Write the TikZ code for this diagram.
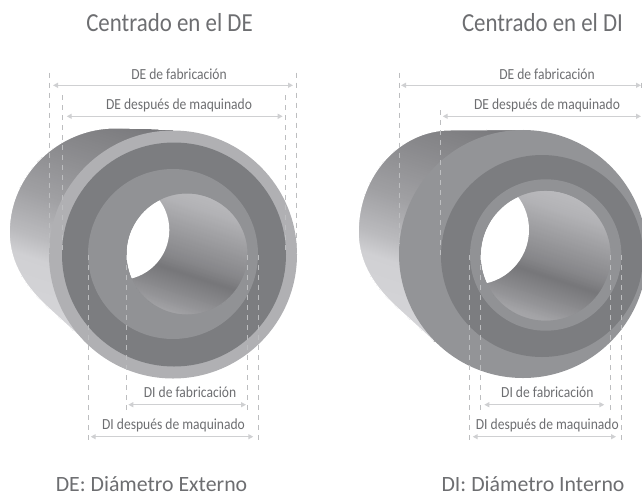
\documentclass[tikz,border=0pt]{standalone}
\usepackage{fontspec}
\setmainfont{Carlito}
\newfontfamily\narrowfont[FakeStretch=0.88]{Carlito}
\usetikzlibrary{arrows.meta}
\definecolor{rimL}{HTML}{B0B0B3}
\definecolor{rimR}{HTML}{939497}
\definecolor{darkring}{HTML}{7C7D80}
\definecolor{midring}{HTML}{919295}
\definecolor{txt}{HTML}{6D6E71}
\definecolor{dim}{HTML}{CFD0D2}
\definecolor{guide}{HTML}{BDBEC0}
% #1 centre, #2 base grey, #3 list of dist/grey/dist/grey: tilted linear gradient painted as overlapping half-planes
\newcommand\tiltgrad[3]{%
  \begin{scope}[shift={#1},rotate=-18]
    \pgfmathsetmacro\bval{#2+0.012}
    \definecolor{stripc}{rgb}{#2,#2,\bval}
    \fill[stripc] (-500,-500) rectangle (500,500);
    \foreach \dA/\gA/\dB/\gB in #3 {
      \pgfmathtruncatemacro\nsteps{max(1,abs(\dA-\dB))}
      \foreach \istep in {1,...,\nsteps}{
        \pgfmathsetmacro\dval{\dA-(\dA-\dB)*\istep/\nsteps}
        \pgfmathsetmacro\gval{\gA+(\gB-\gA)*\istep/\nsteps}
        \pgfmathsetmacro\bval{\gval+0.012}
        \definecolor{stripc}{rgb}{\gval,\gval,\bval}
        \fill[stripc] (-500,-\dval) rectangle (500,500);
      }
    }
  \end{scope}}
\tikzset{
  x=1pt,y=-1pt,
  guideline/.style={draw=guide,line width=0.9pt,dash pattern=on 5pt off 5pt},
  dimline/.style={draw=dim,line width=1.4pt,{Triangle[length=5pt,width=5pt]}-{Triangle[length=5pt,width=5pt]}},
  small/.style={text=txt,inner sep=0pt,font=\narrowfont\fontsize{15.4}{16}\selectfont},
  title/.style={text=txt,inner sep=0pt,font=\narrowfont\fontsize{26}{28}\selectfont},
  foot/.style={text=txt,inner sep=0pt,anchor=base,font=\fontsize{21.8}{24}\selectfont},
  edgesmooth/.style={draw=#1,line width=1pt}
}
\begin{document}
\begin{tikzpicture}
\useasboundingbox (0,0) rectangle (642,493);
\clip (0,0) rectangle (642,493);
% left tube
\begin{scope}
\clip (115,128.5) .. controls (58,128.5) and (9.8,175) .. (9.8,232) .. controls (9.8,265) and (27.5,288.5) .. (49.5,308.5) -- (85,341) -- (173,254) -- (173,130.5) -- cycle;
\tiltgrad{(110,230)}{.455}{{115/.455/101/.49,101/.49/60/.55,60/.55/13/.627,13/.627/-29/.733,-29/.733/-50/.816,-50/.816/-110/.835}}
\end{scope}
\draw[edgesmooth=white] (173,128.5) -- (115,128) .. controls (58,128) and (9.3,175) .. (9.3,232) .. controls (9.3,265) and (27.5,289) .. (49.5,309) -- (85,341.5);
\fill[rimL] (173,254.5) circle[radius=124pt];
\fill[darkring] (174,254.5) circle[radius=112pt];
\fill[midring] (173,254) circle[radius=85pt];
\begin{scope}
\clip (187,254) circle[radius=60.5pt];
\tiltgrad{(187,254)}{.725}{{62/.725/47/.70,47/.70/25/.627,25/.627/-6/.53,-6/.53/-19.5/.465,-19.5/.465/-47/.575,-47/.575/-60/.64,-60/.64/-70/.66}}
\fill[white] (119.3,230) circle[radius=50pt];
\end{scope}
\draw[edgesmooth=midring] (187,254) circle[radius=61pt];
% right tube
\begin{scope}
\clip (450,130.5) .. controls (400,130.5) and (358.8,175) .. (358.8,232) .. controls (358.8,265) and (376.5,288.5) .. (398.5,308.5) -- (434,341) -- (523,254) -- (523,129.5) -- cycle;
\tiltgrad{(459,230)}{.455}{{115/.455/101/.49,101/.49/60/.55,60/.55/13/.627,13/.627/-29/.733,-29/.733/-50/.816,-50/.816/-110/.835}}
\end{scope}
\draw[edgesmooth=white] (523,129.5) -- (450,130) .. controls (400,130) and (358.3,175) .. (358.3,232) .. controls (358.3,265) and (376.5,289) .. (398.5,309) -- (434,341.5);
\fill[rimR] (523,254) circle[radius=124pt];
\fill[darkring] (542,256) circle[radius=101pt];
\fill[midring] (545.7,255) circle[radius=75.7pt];
\begin{scope}
\clip (545.7,255.7) circle[radius=65pt];
\tiltgrad{(545.7,255.7)}{.725}{{62/.725/47/.70,47/.70/25/.627,25/.627/-6/.53,-6/.53/-19.5/.465,-19.5/.465/-47/.575,-47/.575/-60/.64,-60/.64/-70/.66}}
\fill[white] (474.2,229.8) circle[radius=54.8pt];
\end{scope}
\draw[edgesmooth=midring] (545.7,255.7) circle[radius=65.5pt];
% guide lines, left
\draw[guideline] (49.5,72.7) -- (49.5,253);
\draw[guideline] (296.7,72.7) -- (296.7,253);
\draw[guideline] (62.3,95) -- (62.3,253);
\draw[guideline] (285.7,95) -- (285.7,253);
\draw[guideline] (88,255) -- (88,440);
\draw[guideline] (258.3,255) -- (258.3,440);
\draw[guideline] (126,255) -- (126,410);
\draw[guideline] (247.3,255) -- (247.3,410);
% guide lines, right
\draw[guideline] (399,72.7) -- (399,243);
\draw[guideline] (440.7,110) -- (440.7,255);
\draw[guideline] (641.3,82.7) -- (641.3,88);
\draw[guideline] (469.7,255) -- (469.7,440);
\draw[guideline] (621,255) -- (621,440);
\draw[guideline] (480.3,255) -- (480.3,410);
\draw[guideline] (610.3,255) -- (610.3,410);
% dimension arrows
\draw[dimline] (53,85.3) -- (293,85.3);
\draw[dimline] (66.7,116.3) -- (282.7,116.3);
\draw[dimline] (128.3,404.7) -- (246,404.7);
\draw[dimline] (90.7,436.7) -- (253.3,436.7);
\draw[dimline] (401,85.3) -- (641,85.3);
\draw[dimline] (442.7,116.3) -- (641,116.3);
\draw[dimline] (484.3,404.7) -- (604.3,404.7);
\draw[dimline] (472.7,436.7) -- (616,436.7);
% labels
\node[title] (t1) at (169.5,23) {Centrado en el DE};
\node[title] (t2) at (542.5,23) {Centrado en el DI};
\node[small] (a1) at (179,74) {DE de fabricación};
\node[small] (a2) at (179,105) {DE después de maquinado};
\node[small] (a3) at (190,392.7) {DI de fabricación};
\node[small] (a4) at (173.5,425) {DI después de maquinado};
\node[small] (b1) at (547,74) {DE de fabricación};
\node[small] (b2) at (547,105) {DE después de maquinado};
\node[small] (b3) at (547.3,392.7) {DI de fabricación};
\node[small] (b4) at (547.3,425) {DI después de maquinado};
\node[foot] (f1) at (151.5,491.5) {DE: Diámetro Externo};
\node[foot] (f2) at (533,491.5) {DI: Diámetro Interno};
\end{tikzpicture}
\end{document}
